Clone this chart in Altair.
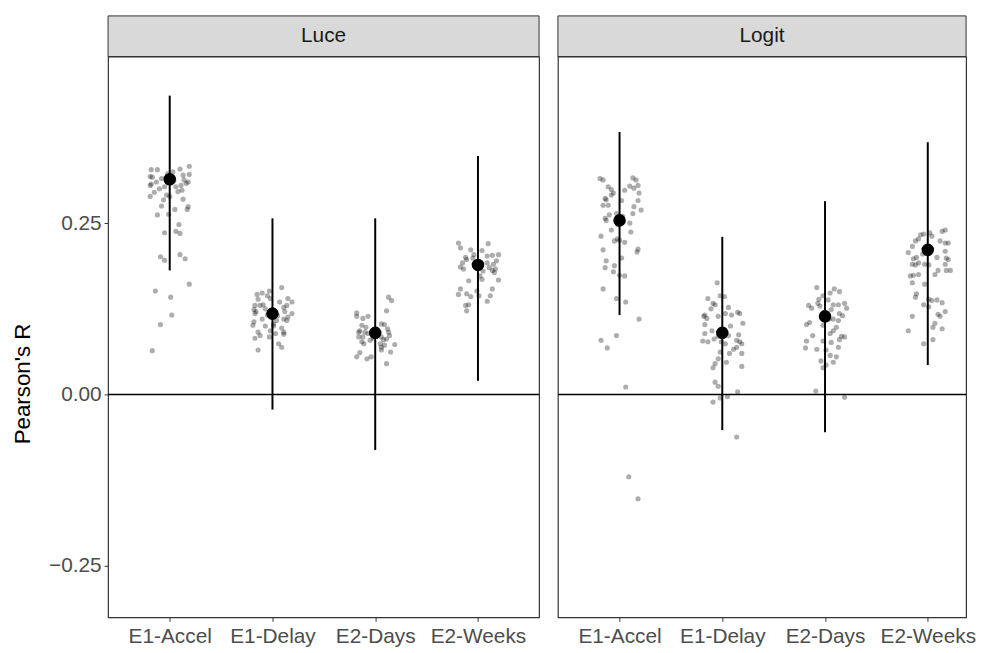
import altair as alt
import pandas as pd

categories = ["E1-Accel", "E1-Delay", "E2-Days", "E2-Weeks"]
models = ["Luce", "Logit"]

# ---- jittered per-item correlations (value, horizontal jitter in category units)
luce_accel_r = [0.328, 0.328, 0.318, 0.317, 0.305, 0.307, 0.310, 0.325, 0.329, 0.333,
                0.320, 0.321, 0.313, 0.310, 0.305, 0.303, 0.303, 0.291, 0.284, 0.289,
                0.275, 0.289, 0.296, 0.285, 0.274, 0.270, 0.270, 0.262, 0.263, 0.248,
                0.238, 0.235, 0.236, 0.201, 0.196, 0.204, 0.198, 0.161, 0.151, 0.142,
                0.116, 0.102, 0.064, 0.312, 0.300, 0.315, 0.298, 0.308, 0.322, 0.295]
luce_accel_j = [-0.18, -0.12, -0.19, -0.17, -0.19, -0.18, -0.13, 0.03, 0.10, 0.19,
                0.13, 0.19, 0.14, 0.18, 0.11, 0.06, -0.05, -0.03, -0.06, -0.19,
                -0.08, 0.00, 0.08, 0.13, 0.18, 0.17, 0.05, -0.12, -0.01, 0.09,
                0.06, 0.10, -0.05, -0.09, -0.05, 0.10, 0.15, 0.19, -0.14, 0.01,
                0.02, -0.09, -0.17, 0.04, -0.10, -0.08, 0.12, 0.16, -0.02, -0.15]

luce_delay_r = [0.156, 0.151, 0.146, 0.148, 0.144, 0.139, 0.140, 0.140, 0.135, 0.135,
                0.130, 0.130, 0.131, 0.124, 0.121, 0.127, 0.130, 0.121, 0.118, 0.113,
                0.110, 0.108, 0.118, 0.116, 0.110, 0.108, 0.103, 0.106, 0.101, 0.100,
                0.100, 0.093, 0.097, 0.091, 0.091, 0.086, 0.089, 0.084, 0.082, 0.088,
                0.074, 0.069, 0.065, 0.120, 0.115, 0.125]
luce_delay_j = [0.09, -0.03, -0.15, -0.10, -0.05, -0.14, -0.02, 0.15, 0.19, 0.07,
                -0.17, -0.12, -0.09, -0.18, -0.16, 0.11, 0.14, 0.12, 0.19, 0.15,
                0.11, 0.14, -0.17, -0.05, -0.10, 0.04, 0.01, -0.18, -0.19, -0.07,
                0.01, -0.02, 0.09, 0.11, -0.14, -0.12, 0.03, -0.03, -0.17, 0.11,
                0.06, 0.09, -0.14, -0.01, 0.05, -0.07]

luce_days_r = [0.142, 0.137, 0.119, 0.114, 0.111, 0.114, 0.122, 0.101, 0.093, 0.091,
               0.091, 0.089, 0.084, 0.084, 0.077, 0.074, 0.079, 0.103, 0.102, 0.091,
               0.086, 0.084, 0.081, 0.074, 0.069, 0.072, 0.073, 0.065, 0.062, 0.061,
               0.055, 0.052, 0.055, 0.045, 0.082, 0.095, 0.088, 0.098, 0.096, 0.080]
luce_days_j = [0.13, 0.16, -0.18, -0.18, -0.12, -0.07, 0.11, -0.13, -0.15, -0.16,
               -0.10, -0.07, -0.12, -0.16, -0.13, -0.11, -0.05, 0.06, 0.09, 0.13,
               0.14, 0.06, 0.11, 0.05, 0.06, 0.09, 0.19, 0.06, 0.15, -0.15,
               -0.18, -0.08, -0.04, 0.11, -0.02, 0.02, -0.03, -0.09, 0.12, 0.08]

luce_weeks_r = [0.221, 0.214, 0.211, 0.220, 0.210, 0.200, 0.197, 0.204, 0.202, 0.203,
                0.204, 0.186, 0.183, 0.192, 0.192, 0.190, 0.195, 0.183, 0.181, 0.180,
                0.173, 0.168, 0.166, 0.167, 0.154, 0.147, 0.146, 0.143, 0.151, 0.144,
                0.154, 0.144, 0.130, 0.131, 0.136, 0.122, 0.188, 0.193, 0.178, 0.185,
                0.199]
luce_weeks_j = [-0.19, -0.17, -0.07, 0.10, 0.04, -0.12, -0.11, -0.04, 0.09, 0.14,
                0.20, -0.17, -0.14, -0.15, 0.09, 0.15, 0.18, 0.17, 0.14, 0.05,
                0.02, 0.04, -0.09, 0.20, -0.17, -0.11, -0.19, -0.07, -0.01, 0.01,
                0.14, 0.12, -0.12, -0.09, 0.09, -0.11, -0.03, 0.03, 0.16, 0.11,
                -0.05]

logit_accel_r = [0.315, 0.313, 0.316, 0.313, 0.305, 0.303, 0.299, 0.294, 0.298, 0.304,
                 0.301, 0.294, 0.291, 0.286, 0.284, 0.276, 0.276, 0.283, 0.274, 0.283,
                 0.269, 0.264, 0.257, 0.254, 0.262, 0.250, 0.264, 0.240, 0.237, 0.231,
                 0.224, 0.227, 0.225, 0.222, 0.212, 0.208, 0.211, 0.195, 0.185, 0.188,
                 0.179, 0.199, 0.174, 0.173, 0.154, 0.140, 0.135, 0.110, 0.086, 0.079,
                 0.068, 0.011, -0.120, -0.152, 0.260, 0.248]
logit_accel_j = [-0.19, -0.16, 0.13, 0.16, 0.18, -0.11, -0.08, -0.06, 0.05, 0.10,
                 0.14, 0.19, -0.08, -0.14, -0.13, -0.16, -0.11, 0.02, 0.14, 0.18,
                 0.21, 0.13, -0.14, -0.13, -0.10, 0.10, -0.03, -0.08, 0.11, -0.18,
                 -0.05, -0.02, 0.00, 0.05, 0.18, 0.17, -0.16, -0.13, -0.14, -0.05,
                 -0.06, 0.02, 0.00, 0.05, -0.16, -0.03, 0.06, 0.19, -0.03, -0.18,
                 -0.12, 0.06, 0.09, 0.18, 0.03, -0.02]

logit_delay_r = [0.163, 0.140, 0.144, 0.143, 0.133, 0.131, 0.127, 0.116, 0.114, 0.111,
                 0.114, 0.118, 0.116, 0.118, 0.120, 0.104, 0.102, 0.093, 0.089, 0.078,
                 0.077, 0.086, 0.087, 0.079, 0.077, 0.074, 0.069, 0.066, 0.077, 0.074,
                 0.062, 0.060, 0.060, 0.052, 0.045, 0.039, 0.047, 0.041, 0.018, 0.012,
                 0.004, -0.005, -0.011, -0.003, -0.062, 0.095, 0.085, 0.100, 0.125, 0.081]
logit_delay_j = [-0.05, -0.14, -0.02, 0.02, -0.09, -0.07, 0.06, -0.17, -0.18, -0.15,
                 -0.04, 0.03, 0.09, 0.17, 0.15, 0.20, -0.17, -0.10, -0.17, -0.19,
                 -0.14, 0.06, 0.16, 0.14, 0.17, 0.19, 0.14, 0.11, -0.01, 0.03,
                 -0.02, 0.07, 0.19, -0.04, -0.07, -0.09, 0.04, 0.19, -0.07, -0.04,
                 0.15, -0.02, -0.09, 0.05, 0.14, 0.02, -0.04, 0.08, -0.11, -0.08]

logit_days_r = [0.156, 0.154, 0.150, 0.148, 0.144, 0.139, 0.133, 0.138, 0.130, 0.126,
                0.129, 0.131, 0.131, 0.133, 0.126, 0.118, 0.115, 0.108, 0.110, 0.105,
                0.102, 0.101, 0.098, 0.093, 0.089, 0.086, 0.085, 0.084, 0.080, 0.078,
                0.078, 0.076, 0.069, 0.068, 0.066, 0.065, 0.057, 0.055, 0.049, 0.047,
                0.043, 0.039, 0.005, -0.004, 0.120, 0.110, 0.124]
logit_days_j = [-0.08, 0.09, 0.14, 0.05, -0.02, -0.06, -0.07, 0.03, -0.16, -0.13,
                -0.05, 0.08, 0.13, 0.19, 0.21, 0.14, 0.17, 0.13, 0.08, -0.15,
                -0.18, -0.02, 0.11, 0.08, 0.05, -0.12, 0.16, 0.19, 0.14, -0.18,
                -0.02, 0.06, 0.13, -0.19, -0.08, 0.01, 0.05, 0.11, -0.04, 0.08,
                0.01, -0.02, -0.09, 0.19, -0.01, 0.04, 0.06]

logit_weeks_r = [0.233, 0.234, 0.227, 0.224, 0.216, 0.236, 0.231, 0.238, 0.240, 0.224,
                 0.221, 0.221, 0.207, 0.198, 0.200, 0.192, 0.190, 0.189, 0.200, 0.209,
                 0.199, 0.197, 0.190, 0.189, 0.190, 0.181, 0.181, 0.181, 0.175, 0.173,
                 0.174, 0.175, 0.163, 0.161, 0.147, 0.142, 0.139, 0.137, 0.138, 0.134,
                 0.131, 0.128, 0.121, 0.117, 0.114, 0.114, 0.104, 0.098, 0.096, 0.093,
                 0.080, 0.074, 0.212, 0.205]
logit_weeks_j = [-0.07, -0.04, -0.09, -0.12, -0.15, 0.02, 0.04, 0.14, 0.17, 0.12,
                 0.17, 0.20, -0.19, -0.14, -0.11, -0.09, -0.15, -0.12, 0.09, 0.17,
                 0.18, 0.20, -0.03, 0.01, 0.17, 0.18, 0.22, 0.10, 0.07, -0.17,
                 -0.14, -0.09, -0.15, -0.03, -0.11, -0.12, 0.01, 0.04, 0.09, 0.14,
                 -0.04, 0.01, 0.17, 0.10, 0.12, -0.15, 0.07, 0.05, 0.14, -0.19,
                 0.05, -0.04, 0.02, -0.05]

# ---- summary estimates with intervals
sum_model = ["Luce"] * 4 + ["Logit"] * 4
sum_cond = categories * 2
sum_est = [0.314, 0.118, 0.090, 0.189, 0.254, 0.090, 0.114, 0.211]
sum_lo = [0.181, -0.022, -0.081, 0.020, 0.116, -0.052, -0.055, 0.043]
sum_hi = [0.436, 0.257, 0.257, 0.348, 0.383, 0.230, 0.282, 0.368]

groups = [
    ("Luce", "E1-Accel", luce_accel_r, luce_accel_j),
    ("Luce", "E1-Delay", luce_delay_r, luce_delay_j),
    ("Luce", "E2-Days", luce_days_r, luce_days_j),
    ("Luce", "E2-Weeks", luce_weeks_r, luce_weeks_j),
    ("Logit", "E1-Accel", logit_accel_r, logit_accel_j),
    ("Logit", "E1-Delay", logit_delay_r, logit_delay_j),
    ("Logit", "E2-Days", logit_days_r, logit_days_j),
    ("Logit", "E2-Weeks", logit_weeks_r, logit_weeks_j),
]
rows = []
for m, c, rs, js in groups:
    for r, j in zip(rs, js):
        rows.append({"model": m, "cond": c, "r": r, "jit": j,
                     "xpos": categories.index(c) + 1 + j})
pts = pd.DataFrame(rows)
summ = pd.DataFrame({"model": sum_model, "cond": sum_cond, "est": sum_est,
                     "lo": sum_lo, "hi": sum_hi,
                     "xpos": [categories.index(c) + 1 for c in sum_cond]})

cat_js = "[" + ",".join("'%s'" % c for c in categories) + "]"
FONT = "Liberation Sans"
YDOM = [-0.325, 0.493]
STEP = 103.7
STRIP_H = 41
PLOT_H = 566


def panel(model, width, show_y):
    xmax = 0.4 + width / STEP
    xscale = alt.Scale(domain=[0.4, xmax], nice=False, zero=False)
    yscale = alt.Scale(domain=YDOM, nice=False, zero=False)
    xaxis = alt.Axis(values=[1, 2, 3, 4], labelExpr=cat_js + "[datum.value-1]",
                     title=None, grid=False, domain=False, tickColor="#333333",
                     tickSize=4, labelFontSize=21, labelColor="#4d4d4d",
                     labelFont=FONT, labelPadding=4)
    if show_y:
        yaxis = alt.Axis(values=[-0.25, 0, 0.25], format=".2f", title="Pearson's R",
                         grid=False, domain=False, tickColor="#333333", tickSize=4,
                         labelFontSize=21, labelColor="#4d4d4d", labelFont=FONT,
                         labelPadding=3, titleFontSize=22.5, titleFont=FONT,
                         titleFontWeight="normal", titleColor="black",
                         titleAngle=270, titleAlign="center",
                         titleBaseline="middle", titleX=-86, titleY=330)
    else:
        yaxis = alt.Axis(labels=False, ticks=False, domain=False, grid=False,
                         title=None)

    pdat = pts[pts.model == model]
    sdat = summ[summ.model == model]
    zdat = pd.DataFrame({"z": [0.0], "model": [model],
                         "x0": [0.4], "x1": [xmax]})

    X = alt.X("xpos:Q", scale=xscale, axis=xaxis)

    dots = alt.Chart(pdat).mark_circle(size=27, color="black", opacity=0.32).encode(
        x=X, y=alt.Y("r:Q", scale=yscale, axis=yaxis))
    zero = alt.Chart(zdat).mark_rule(color="black", strokeWidth=1.6).encode(
        x=alt.X("x0:Q", scale=xscale, axis=xaxis), x2="x1:Q",
        y=alt.Y("z:Q", scale=yscale, axis=yaxis))
    bars = alt.Chart(sdat).mark_rule(color="black", strokeWidth=2).encode(
        x=X, y=alt.Y("lo:Q", scale=yscale, axis=yaxis), y2="hi:Q")
    means = alt.Chart(sdat).mark_circle(size=160, color="black", opacity=1).encode(
        x=X, y=alt.Y("est:Q", scale=yscale, axis=yaxis))
    strip = alt.Chart(zdat).mark_rect(fill="#d9d9d9", stroke="#333333",
                                      strokeWidth=1).encode(
        x=alt.X("x0:Q", scale=xscale, axis=xaxis), x2="x1:Q",
        y=alt.value(-STRIP_H), y2=alt.value(0))
    strip_txt = alt.Chart(zdat).mark_text(fontSize=21, font=FONT,
                                          color="#1a1a1a", baseline="middle").encode(
        x=alt.value(width / 2), y=alt.value(-STRIP_H / 2), text="model:N")

    return alt.layer(dots, zero, bars, means, strip, strip_txt).properties(
        width=width, height=PLOT_H)


chart = alt.hconcat(panel("Luce", 435, True), panel("Logit", 412, False),
                    spacing=15).properties(
    padding={"left": 3, "top": 3, "right": 0, "bottom": 0},
    background="white"
).configure_view(stroke="#333333", strokeWidth=1.2)

chart.save("out.html", embed_options={"renderer": "svg", "actions": False})
